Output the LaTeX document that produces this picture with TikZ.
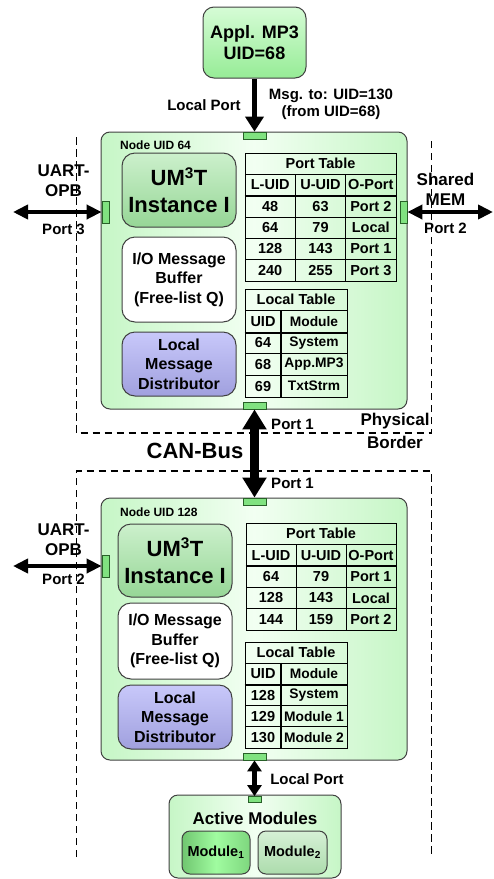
\documentclass[tikz,border=0pt]{standalone}
\usepackage{fontspec}
\setmainfont{Liberation Sans}
\usetikzlibrary{arrows.meta}

\definecolor{nodegrn}{RGB}{198,246,198}
\definecolor{nodehi}{RGB}{242,255,242}
\definecolor{umtop}{RGB}{204,240,204}
\definecolor{umbot}{RGB}{150,214,150}
\definecolor{lmdtop}{RGB}{200,200,250}
\definecolor{lmdbot}{RGB}{160,160,222}
\definecolor{appltop}{RGB}{214,252,214}
\definecolor{applbot}{RGB}{150,236,150}
\definecolor{modadark}{RGB}{112,198,112}
\definecolor{modalight}{RGB}{160,252,160}
\definecolor{modbtop}{RGB}{214,240,214}
\definecolor{modbbot}{RGB}{172,220,172}
\definecolor{portgrn}{RGB}{128,226,128}
\definecolor{portedge}{RGB}{40,96,40}
\definecolor{edgegray}{RGB}{64,64,64}

\begin{document}
\begin{tikzpicture}[x=1pt,y=-1pt,
    lbltxt/.style={font=\fontsize{15}{17}\selectfont\bfseries,inner sep=0pt,align=center},
    bigtxt/.style={font=\fontsize{17}{20}\selectfont\bfseries,inner sep=0pt,align=center},
    nodelbl/.style={font=\fontsize{12}{14}\selectfont\bfseries,inner sep=0pt,anchor=west},
    nodebox/.style={draw=edgegray,line width=1pt,rounded corners=9pt,inner sep=0pt,
        left color=nodegrn,right color=nodegrn,middle color=nodehi},
    innerbox/.style={draw=edgegray,line width=1pt,rounded corners=13pt,inner sep=0pt,
        minimum width=114pt,align=center,font=\fontsize{16}{19.5}\selectfont\bfseries},
    umbox/.style={innerbox,top color=umtop,bottom color=umbot,
        font=\fontsize{22}{27}\selectfont\bfseries},
    bufbox/.style={innerbox,fill=white},
    lmdbox/.style={innerbox,top color=lmdtop,bottom color=lmdbot},
    portbox/.style={draw=portedge,fill=portgrn,line width=0.8pt,inner sep=0pt},
    hport/.style={portbox,minimum width=23pt,minimum height=7pt},
    vport/.style={portbox,minimum width=7pt,minimum height=22pt},
    tabcell/.style={draw,line width=0.9pt,inner sep=0pt,minimum height=21.33pt,
        font=\fontsize{14.5}{16}\selectfont\bfseries},
    loccell/.style={tabcell,font=\fontsize{13.8}{16}\selectfont\bfseries},
    border/.style={line width=1.7pt,dash pattern=on 7.5pt off 4.5pt},
    sidearrow/.style={{Triangle[length=15pt,width=14pt]}-{Triangle[length=15pt,width=14pt]},line width=3.8pt},
    canarrow/.style={{Triangle[length=20pt,width=23pt]}-{Triangle[length=20pt,width=23pt]},line width=9pt},
    localarrow/.style={{Triangle[length=11pt,width=14pt]}-{Triangle[length=11pt,width=14pt]},line width=5pt},
    applarrow/.style={-{Triangle[length=15pt,width=18pt]},line width=5.5pt}]
    \useasboundingbox (0,0) rectangle (494,879);

    % physical borders of the two boards
    \draw [border] (76.5,137) -- (76.5,433) -- (431.5,433) -- (431.5,137);
    \draw [border] (76.5,857) -- (76.5,471) -- (431.5,471) -- (431.5,857);
    \node at (395,421) [bigtxt] (phys) {Physical};
    \node at (395,442) [bigtxt] (bord) {Border};

    % application on top
    \node at (254.5,42.5) [draw=edgegray,line width=1pt,rounded corners=11pt,
        top color=appltop,bottom color=applbot,minimum width=103pt,minimum height=71pt,
        align=center,font=\fontsize{18}{21}\selectfont\bfseries] (appl) {Appl. MP3\\UID=68};

    % node UID 64
    \node at (254,270.5) [nodebox,minimum width=306pt,minimum height=277pt] (n64) {};
    \node at (120,145) [nodelbl] (n64lbl) {Node UID 64};
    \node at (179,190) [umbox,minimum height=74pt] (um64) {UM\textsuperscript{3}T\\Instance I};
    \node at (179,279.5) [bufbox,minimum height=85pt] (buf64) {I/O Message\\Buffer\\(Free-list Q)};
    \node at (179,364) [lmdbox,minimum height=64pt] (lmd64) {Local\\Message\\Distributor};
    \node at (254.5,135.5) [hport] (p64t) {};
    \node at (254.5,405.5) [hport] (p64b) {};
    \node at (105.5,212) [vport] (p64l) {};
    \node at (403.5,212) [vport] (p64r) {};

    \node at (320.5,163.7) [tabcell,minimum width=151pt] (pa-t) {Port Table};
    \foreach \a/\b/\c [count=\r] in {L-UID/U-UID/O-Port,48/63/Port 2,64/79/Local,128/143/Port 1,240/255/Port 3}{
        \node at (270.2,{153+21.33*(\r+0.5)}) [tabcell,minimum width=50.33pt] (pa-\r-1) {\a};
        \node at (320.5,{153+21.33*(\r+0.5)}) [tabcell,minimum width=50.33pt] (pa-\r-2) {\b};
        \node at (370.8,{153+21.33*(\r+0.5)}) [tabcell,minimum width=50.33pt] (pa-\r-3) {\c};
    }
    \draw [line width=2pt] (pa-1-1.south west) -- (pa-1-3.south east);

    \node at (296,299.8) [tabcell,minimum width=102pt,minimum height=21.6pt] (la-t) {Local Table};
    \foreach \a/\b [count=\r] in {UID/Module,64/System,68/App.MP3,69/TxtStrm}{
        \node at (263,{289+21.6*(\r+0.5)}) [tabcell,minimum width=36pt,minimum height=21.6pt] (la-\r-1) {\a};
        \node at (314,{289+21.6*(\r+0.5)}) [loccell,minimum width=66pt,minimum height=21.6pt] (la-\r-2) {\b};
    }
    \draw [line width=2pt] (la-1-1.south west) -- (la-1-2.south east);
    \draw [line width=2pt] (la-1-1.north east) -- (la-4-1.south east);

    % node UID 128
    \node at (254,629) [nodebox,minimum width=306pt,minimum height=262pt] (n128) {};
    \node at (120,512) [nodelbl] (n128lbl) {Node UID 128};
    \node at (175,560.5) [umbox,minimum height=73pt] (um128) {UM\textsuperscript{3}T\\Instance I};
    \node at (175,641) [bufbox,minimum height=76pt] (buf128) {I/O Message\\Buffer\\(Free-list Q)};
    \node at (175,717) [lmdbox,minimum height=64pt] (lmd128) {Local\\Message\\Distributor};
    \node at (254.5,501.5) [hport] (p128t) {};
    \node at (254.5,756.5) [hport] (p128b) {};
    \node at (105.5,566) [vport] (p128l) {};

    \node at (321,533.7) [tabcell,minimum width=150pt,minimum height=21.4pt] (pb-t) {Port Table};
    \foreach \a/\b/\c [count=\r] in {L-UID/U-UID/O-Port,64/79/Port 1,128/143/Local,144/159/Port 2}{
        \node at (271,{523+21.4*(\r+0.5)}) [tabcell,minimum width=50pt,minimum height=21.4pt] (pb-\r-1) {\a};
        \node at (321,{523+21.4*(\r+0.5)}) [tabcell,minimum width=50pt,minimum height=21.4pt] (pb-\r-2) {\b};
        \node at (371,{523+21.4*(\r+0.5)}) [tabcell,minimum width=50pt,minimum height=21.4pt] (pb-\r-3) {\c};
    }
    \draw [line width=2pt] (pb-1-1.south west) -- (pb-1-3.south east);

    \node at (296,652.6) [tabcell,minimum width=102pt,minimum height=21.2pt] (lb-t) {Local Table};
    \foreach \a/\b [count=\r] in {UID/Module,128/System,129/Module 1,130/Module 2}{
        \node at (263,{642+21.2*(\r+0.5)}) [tabcell,minimum width=36pt,minimum height=21.2pt] (lb-\r-1) {\a};
        \node at (314,{642+21.2*(\r+0.5)}) [loccell,minimum width=66pt,minimum height=21.2pt] (lb-\r-2) {\b};
    }
    \draw [line width=2pt] (lb-1-1.south west) -- (lb-1-2.south east);
    \draw [line width=2pt] (lb-1-1.north east) -- (lb-4-1.south east);

    % active modules
    \node at (255,836.5) [nodebox,minimum width=172pt,minimum height=83pt] (act) {};
    \node at (255,818) [bigtxt] (actlbl) {Active Modules};
    \node at (254.5,799.5) [portbox,minimum width=13pt,minimum height=6pt] (pmod) {};
    \node at (216,852.5) [draw=edgegray,line width=1pt,rounded corners=8pt,
        left color=modadark,right color=modadark!70!modalight,middle color=modalight,
        minimum width=68pt,minimum height=43pt,inner sep=0pt,
        font=\fontsize{14.5}{16}\selectfont\bfseries] (mod1) {Module\textsubscript{1}};
    \node at (292.5,852.5) [draw=edgegray,line width=1pt,rounded corners=8pt,
        top color=modbtop,bottom color=modbbot,
        minimum width=69pt,minimum height=43pt,inner sep=0pt,
        font=\fontsize{14.5}{16}\selectfont\bfseries] (mod2) {Module\textsubscript{2}};

    % links
    \coordinate (uart64) at (13,212);
    \coordinate (shmem) at (493,212);
    \coordinate (uart128) at (13,566);
    \draw [applarrow] (appl) -- (p64t);
    \draw [sidearrow] (uart64) -- (p64l);
    \draw [sidearrow] (p64r) -- (shmem);
    \draw [canarrow] (p64b) -- (p128t);
    \draw [sidearrow] (uart128) -- (p128l);
    \draw [localarrow] (p128b) -- (pmod);

    % link labels
    \node at (204,105) [lbltxt] (lplbl) {Local Port};
    \node at (331,104.5) [lbltxt] (msglbl) {Msg. to: UID=130\\(from UID=68)};
    \node at (63.5,181) [bigtxt] (uart64lbl) {UART-\\OPB};
    \node at (63.5,229) [lbltxt] (p3lbl) {Port 3};
    \node at (445.5,189.5) [bigtxt] (shmemlbl) {Shared\\MEM};
    \node at (445.5,228) [lbltxt] (p2lbl) {Port 2};
    \node at (195,451) [font=\fontsize{22}{26}\selectfont\bfseries,inner sep=0pt] (canlbl) {CAN-Bus};
    \node at (292.5,424) [lbltxt] (p1alnl) {Port 1};
    \node at (292.5,483) [lbltxt] (p1blbl) {Port 1};
    \node at (63.5,540) [bigtxt] (uart128lbl) {UART-\\OPB};
    \node at (63.5,579) [lbltxt] (p2blbl) {Port 2};
    \node at (307,779) [lbltxt] (lpblbl) {Local Port};
\end{tikzpicture}
\end{document}
